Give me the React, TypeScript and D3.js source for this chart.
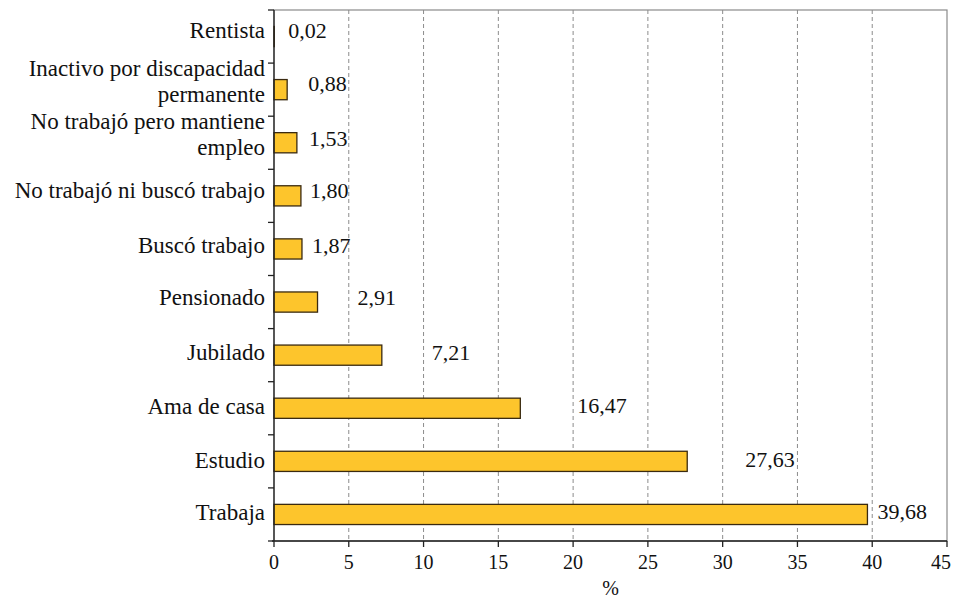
import React from "react";
import * as d3 from "d3";

const categories: string[][] = [
  ["Rentista"],
  ["Inactivo por discapacidad", "permanente"],
  ["No trabajó pero mantiene", "empleo"],
  ["No trabajó ni buscó trabajo"],
  ["Buscó trabajo"],
  ["Pensionado"],
  ["Jubilado"],
  ["Ama de casa"],
  ["Estudio"],
  ["Trabaja"],
];
const values: number[] = [0.02, 0.88, 1.53, 1.8, 1.87, 2.91, 7.21, 16.47, 27.63, 39.68];
const xTicks: number[] = [0, 5, 10, 15, 20, 25, 30, 35, 40, 45];
const xTitle = "%";

// label placement (layout config, in px)
const labelDx = [14, 21, 12, 9, 10, 40, 50, 57, 58, 10];
const labelDy = [-4, -4, -2, -3, -1, -2, 0, 0, 1, 0];

const W = 953;
const H = 601;
const M = { left: 274, right: 6, top: 10, bottom: 60 };
const FONT = "'Liberation Serif', 'Times New Roman', serif";

export default function App() {
  const x = d3.scaleLinear().domain([0, 45]).range([M.left, W - M.right]);
  const y = d3
    .scaleBand<number>()
    .domain(d3.range(categories.length))
    .range([M.top, H - M.bottom])
    .paddingInner(0.62)
    .paddingOuter(0.31);
  const step = y.step();
  const bottom = H - M.bottom;
  const fmt = (v: number) => v.toFixed(2).replace(".", ",");

  return (
    <svg width={W} height={H} style={{ position: "absolute", left: 0, top: 0, background: "#fff" }}>
      <rect x={0} y={0} width={W} height={H} fill="#fff" />
      <rect x={x(0)} y={M.top} width={x(45) - x(0)} height={bottom - M.top} fill="none" stroke="#8a8a8a" strokeWidth={1.2} />
      {xTicks.slice(1, -1).map((t) => (
        <line key={"g" + t} x1={x(t)} x2={x(t)} y1={M.top} y2={bottom} stroke="#8c8c8c" strokeWidth={1} strokeDasharray="4,3" />
      ))}
      {values.map((v, i) => (
        <rect key={"b" + i} x={x(0)} y={y(i)!} width={x(v) - x(0)} height={y.bandwidth()} fill="#FDC52C" stroke="#3a2a10" strokeWidth={1.3} />
      ))}
      <line x1={x(0)} x2={x(0)} y1={M.top} y2={bottom} stroke="#222" strokeWidth={1.3} />
      {d3.range(categories.length + 1).map((k) => (
        <line key={"yt" + k} x1={x(0) - 6} x2={x(0)} y1={M.top + k * step} y2={M.top + k * step} stroke="#222" strokeWidth={1.3} />
      ))}
      <line x1={x(0) - 2} x2={x(45)} y1={bottom} y2={bottom} stroke="#222" strokeWidth={1.3} />
      {xTicks.map((t, k) => (
        <g key={"xt" + t}>
          <line x1={x(t)} x2={x(t)} y1={bottom} y2={bottom + 6} stroke="#222" strokeWidth={1.3} />
          <text
            x={k === xTicks.length - 1 ? W - 2 : x(t)}
            y={bottom + 23}
            dominantBaseline="middle"
            textAnchor={k === xTicks.length - 1 ? "end" : "middle"}
            style={{ fontFamily: FONT, fontSize: 20 }}
            fill="#111"
          >
            {t}
          </text>
        </g>
      ))}
      <text x={(x(0) + x(45)) / 2} y={bottom + 49} dominantBaseline="middle" textAnchor="middle" style={{ fontFamily: FONT, fontSize: 20 }} fill="#111">
        {xTitle}
      </text>
      {categories.map((lines, i) => {
        const cy = y(i)! + y.bandwidth() / 2;
        const n = lines.length;
        return (
          <text key={"c" + i} textAnchor="end" style={{ fontFamily: FONT, fontSize: 23 }} fill="#111">
            {lines.map((ln, j) => (
              <tspan key={j} x={x(0) - 9} y={n === 1 ? cy + labelDy[i] : cy - 19 + j * 26} dominantBaseline="middle">
                {ln}
              </tspan>
            ))}
          </text>
        );
      })}
      {values.map((v, i) => (
        <text
          key={"v" + i}
          x={x(v) + labelDx[i]}
          y={y(i)! + y.bandwidth() / 2 + labelDy[i]}
          dominantBaseline="middle"
          style={{ fontFamily: FONT, fontSize: 22 }}
          fill="#111"
        >
          {fmt(v)}
        </text>
      ))}
    </svg>
  );
}
